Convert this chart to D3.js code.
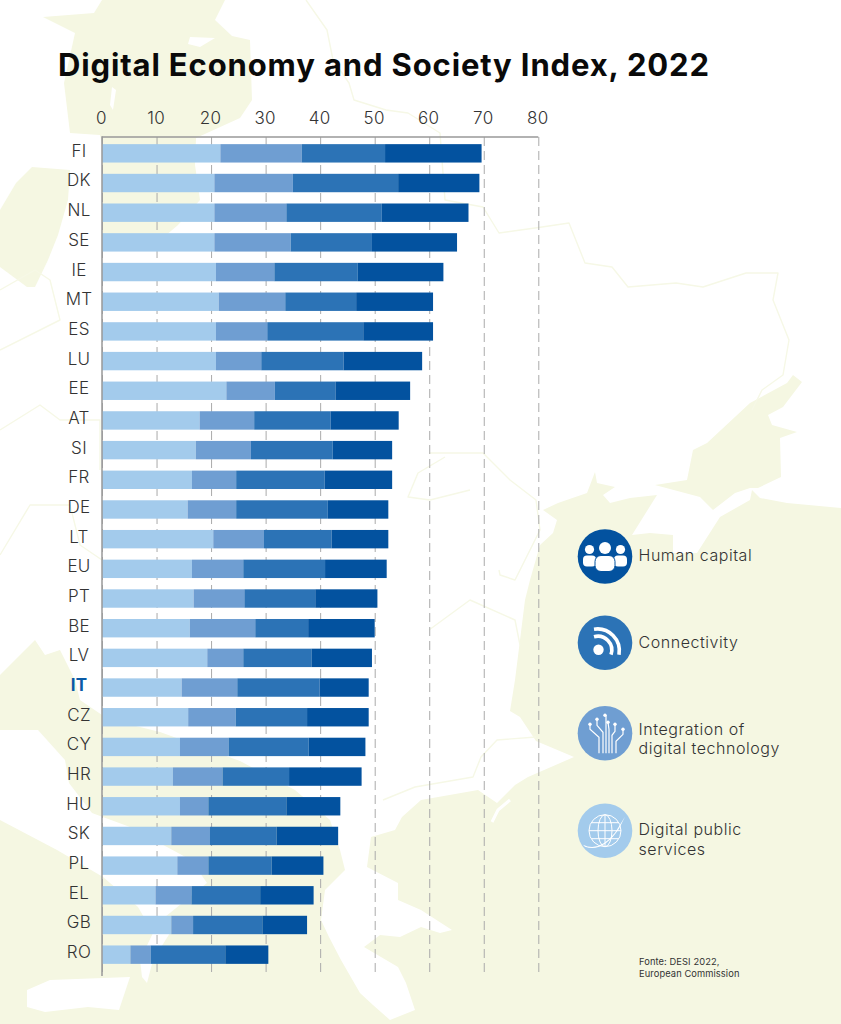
<!DOCTYPE html>
<html><head><meta charset="utf-8">
<script src="https://cdn.jsdelivr.net/npm/d3@7"></script>
<style>
html,body{margin:0;padding:0;background:#fff}
svg{display:block}
text{font-family:"Inter","Open Sans",sans-serif;fill:#333}
</style></head><body>
<svg id="c" width="841" height="1024"></svg>
<script>
const countries=["FI","DK","NL","SE","IE","MT","ES","LU","EE","AT","SI","FR","DE","LT","EU","PT","BE","LV","IT","CZ","CY","HR","HU","SK","PL","EL","GB","RO"];
const digitalPublicServices=[21.7,20.6,20.6,20.6,20.9,21.4,20.9,20.9,22.8,17.9,17.2,16.5,15.7,20.4,16.5,16.8,16.1,19.3,14.6,15.8,14.3,13.0,14.3,12.7,13.8,9.8,12.7,5.2];
const integrationDigitalTech=[14.9,14.4,13.2,14.0,10.7,12.2,9.4,8.3,8.9,10.0,10.1,8.1,8.9,9.3,9.4,9.3,12.0,6.6,10.2,8.7,8.9,9.1,5.2,7.1,5.7,6.6,4.0,3.7];
const connectivity=[15.3,19.3,17.5,14.9,15.3,13.0,17.6,15.1,11.1,14.0,15.0,16.2,16.8,12.4,15.0,13.0,9.7,12.5,15.1,13.1,14.7,12.2,14.3,12.2,11.6,12.6,12.7,13.7];
const humanCapital=[17.7,14.9,15.9,15.6,15.7,14.1,12.8,14.4,13.7,12.5,10.9,12.4,11.1,10.4,11.3,11.4,12.2,11.1,9.0,11.3,10.4,13.3,9.9,11.3,9.5,9.8,8.2,7.9];
const xTicks=[0,10,20,30,40,50,60,70,80];
const seriesKeys=["dps","idt","con","hc"];
const seriesColors=["#a3cbec","#6f9ed2","#2c73b6","#03529f"];

const svg=d3.select("#c");
const cream="#f5f7e2";
/* decorative background map */
const bg=svg.append("g");
const poly=(pts,fill)=>bg.append("path").attr("d",d3.line()(pts)+"Z").attr("fill",fill);
const stroke=(pts,col,w)=>bg.append("path").attr("d",d3.line()(pts)).attr("fill","none").attr("stroke",col).attr("stroke-width",w).attr("stroke-linejoin","round");
// Scandinavia
poly([[102,0],[225,0],[215,20],[232,36],[250,40],[252,100],[240,118],[196,138],[195,165],[200,200],[178,225],[165,236],[102,236],[102,145],[100,135],[70,133],[64,83],[75,33],[43,17],[94,13]],cream);
poly([[190,37],[215,38],[200,47],[188,44]],"#fff");
poly([[112,87],[116,90],[113,110],[110,105]],"#fff");
poly([[32,167],[70,170],[68,200],[58,235],[48,260],[35,287],[27,287],[0,267],[0,210],[16,183]],cream);
// Southern land and seas
poly([[841,508],[787,503],[760,498],[752,490],[750,500],[720,517],[697,553],[673,553],[673,535],[650,533],[632,535],[657,495],[630,498],[610,503],[603,495],[615,487],[597,483],[595,472],[587,493],[558,503],[543,510],[557,520],[553,533],[540,545],[530,580],[525,600],[520,640],[515,680],[510,711],[520,717],[536,741],[574,757],[528,777],[515,785],[497,803],[478,790],[421,800],[402,817],[395,830],[371,837],[367,867],[398,883],[398,900],[421,910],[452,930],[440,933],[421,927],[400,937],[380,935],[364,947],[398,967],[406,983],[415,1010],[390,1020],[373,1005],[360,993],[341,960],[329,937],[321,920],[325,890],[345,870],[340,850],[330,820],[295,790],[240,761],[160,732],[120,722],[102,715],[80,700],[75,680],[60,650],[45,655],[35,640],[25,650],[0,675],[0,1024],[841,1024]],cream);
poly([[793,375],[802,382],[783,407],[768,415],[772,425],[797,432],[780,438],[781,477],[758,488],[750,488],[735,493],[713,510],[700,497],[655,485],[687,480],[693,450],[707,443],[750,403],[787,383]],cream);
// Italy, Sicily, islands
poly([[0,730],[38,730],[65,760],[69,783],[92,813],[130,827],[191,860],[207,883],[165,917],[170,933],[153,960],[147,983],[142,977],[140,960],[153,933],[138,907],[103,877],[57,850],[0,820]],"#fff");
poly([[27,990],[50,980],[130,977],[119,1010],[88,1007],[45,1012],[27,1007]],"#fff");
stroke([[492,822],[498,810],[510,800]],"#fff",3);
// border lines
const bc="#f6f8e6";
stroke([[306,0],[327,30],[333,60],[349,83],[354,100],[386,110],[408,113],[440,133],[445,200],[483,207],[499,233],[542,227],[569,223],[585,263],[612,267],[628,287],[676,283],[703,287],[746,273],[778,273],[773,300],[789,340],[783,375],[762,390],[752,410]],bc,1.4);
stroke([[429,453],[483,453],[510,480],[536,500],[540,530],[515,580],[500,575],[499,570]],bc,1.4);
stroke([[445,457],[418,473],[408,497],[430,500],[470,490]],bc,1.4);
stroke([[0,290],[35,270],[50,280],[55,300],[60,320],[0,350]],bc,1.4);
stroke([[0,430],[40,405],[60,420],[100,420],[100,470]],bc,1.4);
stroke([[0,555],[30,505],[70,505],[80,545],[102,560]],bc,1.4);
stroke([[383,800],[415,787],[473,777],[481,757],[497,740],[536,737]],bc,1.4);
stroke([[429,630],[470,600],[515,620],[520,645]],bc,1.4);

/* chart */
const x=d3.scaleLinear().domain([0,80]).range([102,538.3]);
const y=d3.scaleBand().domain(countries).range([138.5,969.5]).paddingInner(0.38).paddingOuter(0.19);
const rows=countries.map((c,i)=>({c,dps:digitalPublicServices[i],idt:integrationDigitalTech[i],con:connectivity[i],hc:humanCapital[i]}));
const stack=d3.stack().keys(seriesKeys)(rows);
const color=d3.scaleOrdinal(seriesKeys,seriesColors);

const ax=svg.append("g").attr("transform","translate(-1,137)")
  .call(d3.axisTop(x).tickValues(xTicks).tickSize(-839).tickPadding(13).tickFormat(d3.format("d")));
ax.select(".domain").remove();
ax.selectAll("line").attr("transform","translate(1,0)").attr("stroke","#aaa").attr("stroke-width",1).attr("stroke-dasharray","9 5");
ax.selectAll("text").attr("font-size",17).style("letter-spacing","0.3px").style("font-family",'"Inter","Open Sans",sans-serif').style("font-weight",300).style("fill","#333");
svg.append("line").attr("x1",x(0)).attr("x2",x(80)).attr("y1",137).attr("y2",137).attr("stroke","#999").attr("stroke-width",1.5);

svg.append("g").selectAll("g").data(stack).join("g").attr("fill",d=>color(d.key))
 .selectAll("rect").data(d=>d).join("rect")
  .attr("x",d=>x(d[0])).attr("width",d=>x(d[1])-x(d[0]))
  .attr("y",d=>y(d.data.c)).attr("height",y.bandwidth());

const ay=svg.append("g").attr("transform","translate(102,-2)")
  .call(d3.axisLeft(y).tickSize(0).tickPadding(23));
ay.select(".domain").remove();
ay.selectAll("text").attr("text-anchor","middle").attr("font-size",17)
  .style("letter-spacing","0.3px").style("font-family",'"Inter","Open Sans",sans-serif')
  .style("fill",d=>d==="IT"?"#0a5aa6":"#333").style("font-weight",d=>d==="IT"?700:300);
svg.append("line").attr("x1",102).attr("x2",102).attr("y1",136.3).attr("y2",976).attr("stroke","#999").attr("stroke-width",1.5);

/* title */
svg.append("text").attr("x",58).attr("y",76).attr("font-size",31).attr("font-weight",700)
 .style("fill","#0a0a0a").attr("textLength",651).attr("lengthAdjust","spacing").text("Digital Economy and Society Index, 2022");

/* legend */
const legendLabels=[["Human capital"],["Connectivity"],["Integration of","digital technology"],["Digital public","services"]];
const legendColors=["#03529f","#2c73b6","#6f9ed2","#a3cbec"];
const legendCy=[556.5,642.7,733.3,830.7];
const legendBase=[[561],[648],[735,754],[835,855]];
const lg=svg.append("g");
legendLabels.forEach((ls,i)=>{
  lg.append("circle").attr("cx",605).attr("cy",legendCy[i]).attr("r",27.3).attr("fill",legendColors[i]);
  ls.forEach((t,j)=>lg.append("text").attr("x",638.5).attr("y",legendBase[i][j]).attr("font-size",16).style("font-weight",300).style("letter-spacing","0.55px").text(t));
});
// icon: people
const g0=lg.append("g").attr("transform",`translate(605,${legendCy[0]})`).attr("fill","#fff");
[[-15.5,-7,4.6],[0,-8.5,6],[15.5,-7,4.6]].forEach(c=>g0.append("circle").attr("cx",c[0]).attr("cy",c[1]).attr("r",c[2]));
g0.append("rect").attr("x",-22).attr("y",-1).attr("width",13).attr("height",11).attr("rx",4);
g0.append("rect").attr("x",9).attr("y",-1).attr("width",13).attr("height",11).attr("rx",4);
g0.append("rect").attr("x",-10).attr("y",-1).attr("width",20).attr("height",16).attr("rx",6).attr("stroke",legendColors[0]).attr("stroke-width",1);
// icon: signal
const g1=lg.append("g").attr("transform",`translate(605,${legendCy[1]})`).attr("fill","none").attr("stroke","#fff").attr("stroke-width",3.6);
g1.append("circle").attr("cx",-6.5).attr("cy",7).attr("r",5.2).attr("fill","#fff").attr("stroke","none");
g1.append("path").attr("d","M-11,-6 A14,14 0 0 1 6,12");
g1.append("path").attr("d","M-11,-13.5 A22,22 0 0 1 14,12");
// icon: circuit
const g2=lg.append("g").attr("transform",`translate(605,${legendCy[2]})`).attr("fill","none").attr("stroke","#fff").attr("stroke-width",1.2);
[["M-2,20V-1L-8,-8V-14",-8,-14],["M1,20V-18",0,-18],["M4,20V-4L3,-11",3,-11],["M-6,20V4L-15,-4V-9",-15,-9],["M7,20V2L10,-2V-9",10,-9],["M11,20V8L18,1V-4",18,-4]].forEach(p=>{
  g2.append("path").attr("d",p[0]);
  g2.append("circle").attr("cx",p[1]).attr("cy",p[2]).attr("r",1.7).attr("fill","#fff").attr("stroke","none");
});
// icon: globe
const g3=lg.append("g").attr("transform",`translate(605,${legendCy[3]})`).attr("fill","none").attr("stroke","#fff").attr("stroke-width",1);
g3.append("circle").attr("r",16);
g3.append("ellipse").attr("rx",7).attr("ry",16);
g3.append("path").attr("d","M0,-16V16M-16,0H16M-13.5,-8H13.5M-13.5,8H13.5");
g3.append("path").attr("d","M-22,14 Q-6,22 10,2 L20,-14 L14,-2 Q-2,22 -20,16Z").attr("fill","#fff").attr("stroke","none");

/* source */
const sourceLines=["Fonte: DESI 2022,","European Commission"];
const sourceBase=[965,977];
sourceLines.forEach((t,i)=>svg.append("text").attr("x",639).attr("y",sourceBase[i]).attr("font-size",9.3).style("letter-spacing","0.1px").text(t));
</script>
</body></html>
